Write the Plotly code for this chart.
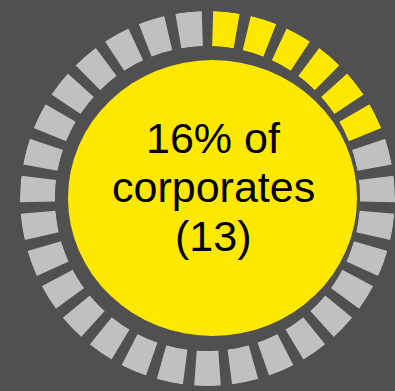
import plotly.graph_objects as go

# ---- data ----
segment_ids = [str(i) for i in range(1, 32)]      # 31 ring segments
highlight_count = 6                              # highlighted (yellow) segments
share_pct = 16                                   # % of corporates
corporate_count = 13                             # number of corporates
label_lines = [f"{share_pct}% of", "corporates", f"({corporate_count})"]

BG = "#505050"
YELLOW = "#FFE800"
GREY = "#C0C0C0"

seg_colors = [YELLOW if i < highlight_count else GREY for i in range(len(segment_ids))]

fig = go.Figure()
fig.add_trace(go.Barpolar(
    theta=segment_ids,
    r=[1] * len(segment_ids),
    base=0,
    width=0.7,
    marker=dict(color=seg_colors, line=dict(width=0)),
    hoverinfo="skip",
))

W, H = 395, 391
cx, cy, R = 207.5, 198.5, 187.5

fig.update_layout(
    width=W, height=H,
    margin=dict(l=0, r=0, t=0, b=0),
    paper_bgcolor=BG,
    plot_bgcolor=BG,
    showlegend=False,
    polar=dict(
        domain=dict(x=[(cx - R) / W, (cx + R) / W],
                    y=[(H - cy - R) / H, (H - cy + R) / H]),
        bgcolor=BG,
        hole=0.813,
        radialaxis=dict(visible=False, range=[0, 1]),
        angularaxis=dict(
            type="category",
            categoryarray=segment_ids,
            direction="clockwise",
            rotation=90 - 360 / (2 * len(segment_ids)),
            showticklabels=False, showgrid=False, showline=False, ticks="",
        ),
    ),
)

# inner yellow disc
fig.add_shape(type="circle", xref="paper", yref="paper",
              x0=68 / W, x1=357 / W, y0=(H - 336) / H, y1=(H - 60) / H,
              fillcolor=YELLOW, line=dict(width=0), layer="above")

line_y = [138.3, 187.2, 236.3]
for txt, yy in zip(label_lines, line_y):
    fig.add_annotation(text=txt, xref="paper", yref="paper",
                       x=213 / W, y=(H - yy) / H, xanchor="center", yanchor="middle",
                       showarrow=False,
                       font=dict(family="Liberation Sans, Arial", size=43, color="black"))

fig.write_html("out.html")
